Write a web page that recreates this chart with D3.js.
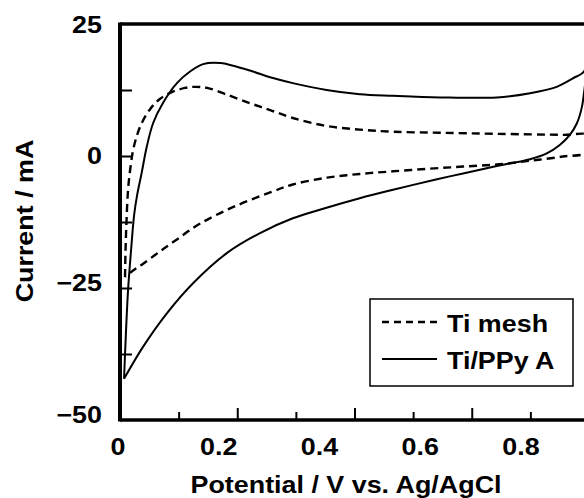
<!DOCTYPE html>
<html>
<head>
<meta charset="utf-8">
<script src="https://cdn.jsdelivr.net/npm/d3@7"></script>
<style>
  body { margin: 0; background: #fff; }
  text { font-family: "Liberation Sans", Arial, sans-serif; font-weight: bold; fill: #000; }
</style>
</head>
<body>
<div id="chart"></div>
<script>
// Ti mesh (dashed), forward then reverse scan
var meshV = [0.010, 0.011, 0.013, 0.016, 0.020, 0.026, 0.034, 0.044, 0.060, 0.079, 0.103, 0.129, 0.149, 0.173, 0.210, 0.258, 0.298, 0.343, 0.409, 0.476, 0.542, 0.635, 0.748, 0.879, 0.930,
             0.930, 0.879, 0.814, 0.748, 0.681, 0.615, 0.542, 0.476, 0.411, 0.343, 0.298, 0.224, 0.159, 0.113, 0.079, 0.046, 0.026, 0.010];
var meshI = [-22.9, -17.8, -12.1, -6.4, -2.7, 1.1, 4.0, 6.4, 8.9, 10.8, 12.1, 12.9, 13.1, 12.9, 11.7, 10.0, 8.7, 7.2, 5.7, 5.0, 4.6, 4.4, 4.2, 4.0, 3.9,
             0.8, -0.1, -0.9, -1.6, -2.0, -2.4, -2.9, -3.4, -4.1, -5.4, -6.9, -9.7, -12.8, -15.8, -18.1, -20.4, -21.7, -22.9];

// Ti/PPy A (solid)
var ppyV = [0.008, 0.012, 0.016, 0.022, 0.028, 0.034, 0.043, 0.053, 0.066, 0.085, 0.113, 0.139, 0.165, 0.199, 0.232, 0.264, 0.298, 0.343, 0.410, 0.476, 0.542, 0.635, 0.748, 0.814, 0.867, 0.899, 0.921, 0.928,
            0.921, 0.917, 0.907, 0.893, 0.873, 0.847, 0.814, 0.748, 0.681, 0.625, 0.542, 0.476, 0.410, 0.343, 0.278, 0.212, 0.145, 0.093, 0.046, 0.008];
var ppyI = [-42.2, -33.0, -25.4, -17.8, -11.2, -7.4, -3.2, 1.7, 6.3, 10.0, 13.8, 16.0, 17.4, 17.6, 16.9, 16.0, 14.9, 13.8, 12.5, 11.7, 11.4, 11.1, 11.1, 11.9, 13.1, 14.7, 16.0, 18.0,
            11.9, 9.3, 6.2, 4.0, 2.1, 0.5, -0.6, -1.9, -3.3, -4.5, -6.4, -8.0, -9.8, -11.8, -14.6, -18.4, -24.1, -29.8, -36.1, -42.2];

var xLabels = [0, 0.2, 0.4, 0.6, 0.8];
var xTickVals = [0.1, 0.2, 0.3, 0.4, 0.5, 0.6, 0.7];
var yLabels = [25, 0, -25, -50];
var yTickVals = [12.5, 0, -12.5, -25, -37.5];

(function() {
    var W = 584, H = 498;
    var mLeft = 120, mTop = 24, mRight = 584, mBottom = 420;
    var sx = 1.12; // the original lettering is a bit wider than Arial

    var svg = d3.select("#chart").append("svg")
        .attr("width", W)
        .attr("height", H);

    svg.append("rect").attr("width", W).attr("height", H).attr("fill", "#fff");

    var x = d3.scaleLinear().domain([0, 0.8]).range([mLeft, 523]);
    var y = d3.scaleLinear().domain([-50, 25]).range([mBottom, mTop]);
    // tick marks of the original sit on their own spacing
    var xTick = d3.scaleLinear().domain([0, 0.8]).range([mLeft, 589]);

    svg.append("clipPath").attr("id", "plot")
      .append("rect")
        .attr("x", mLeft).attr("y", mTop)
        .attr("width", mRight - mLeft).attr("height", mBottom - mTop);

    var line = d3.line()
        .x(function(d) { return x(d[0]); })
        .y(function(d) { return y(d[1]); })
        .curve(d3.curveCatmullRom.alpha(0.5));

    var mesh = meshV.map(function(v, i) { return [v, meshI[i]]; });
    var ppy = ppyV.map(function(v, i) { return [v, ppyI[i]]; });

    var g = svg.append("g").attr("clip-path", "url(#plot)");
    g.append("path").datum(mesh)
        .attr("d", line)
        .attr("fill", "none")
        .attr("stroke", "#000")
        .attr("stroke-width", 2.4)
        .attr("stroke-dasharray", "8,5");
    g.append("path").datum(ppy)
        .attr("d", line)
        .attr("fill", "none")
        .attr("stroke", "#000")
        .attr("stroke-width", 2);

    // y ticks (inward)
    var yAxis = d3.axisRight(y).tickValues(yTickVals).tickSize(12).tickFormat("");
    svg.append("g")
        .attr("transform", "translate(" + mLeft + ",0)")
        .call(yAxis)
        .call(function(a) { a.select(".domain").remove(); a.selectAll("line").attr("stroke-width", 2); });

    // x ticks (inward, alternating)
    var xAxis = d3.axisTop(xTick).tickValues(xTickVals).tickSize(8).tickFormat("");
    svg.append("g")
        .attr("transform", "translate(0," + mBottom + ")")
        .call(xAxis)
        .call(function(a) {
            a.select(".domain").remove();
            a.selectAll("line")
                .attr("stroke-width", 2)
                .attr("y2", function(d) { return Math.round(d * 10) % 2 === 0 ? -12 : -8; });
        });

    // frame
    svg.append("line").attr("x1", mLeft).attr("x2", mRight).attr("y1", mTop).attr("y2", mTop)
        .attr("stroke", "#000").attr("stroke-width", 3.5);
    svg.append("line").attr("x1", mLeft).attr("x2", mLeft).attr("y1", mTop - 1.5).attr("y2", mBottom + 1.5)
        .attr("stroke", "#000").attr("stroke-width", 4);
    svg.append("line").attr("x1", mLeft).attr("x2", mRight).attr("y1", mBottom).attr("y2", mBottom)
        .attr("stroke", "#000").attr("stroke-width", 3.5);

    // tick labels
    svg.selectAll(".ylab").data(yLabels).enter().append("text")
        .attr("class", "ylab")
        .attr("transform", function(d) {
            var yy = d === 25 ? y(d) + 1 : (d < 0 ? y(d) - 5 : y(d));
            return "translate(102," + yy + ") scale(" + sx + ",1)";
        })
        .attr("dy", "0.35em")
        .attr("text-anchor", "end")
        .style("font-size", "24px")
        .text(function(d) { return d < 0 ? "\u2212" + Math.abs(d) : d; });

    svg.selectAll(".xlab").data(xLabels).enter().append("text")
        .attr("class", "xlab")
        .attr("transform", function(d) { return "translate(" + (x(d) - 2) + ",455) scale(" + sx + ",1)"; })
        .attr("text-anchor", "middle")
        .style("font-size", "24px")
        .text(function(d) { return d === 0 ? "0" : d3.format(".1f")(d); });

    // axis titles
    svg.append("text")
        .attr("transform", "translate(346,493) scale(" + sx + ",1)")
        .attr("text-anchor", "middle")
        .style("font-size", "24px")
        .text("Potential / V vs. Ag/AgCl");

    svg.append("text")
        .attr("transform", "translate(33,221) rotate(-90) scale(" + sx + ",1)")
        .attr("text-anchor", "middle")
        .style("font-size", "24px")
        .text("Current / mA");

    // legend
    var legend = svg.append("g");
    legend.append("rect")
        .attr("x", 370).attr("y", 299).attr("width", 203).attr("height", 87)
        .attr("fill", "#fff").attr("stroke", "#000").attr("stroke-width", 1.5);
    var items = [["Ti mesh", "7,5", 2.4, 322], ["Ti/PPy A", null, 2, 359]];
    items.forEach(function(it) {
        legend.append("line")
            .attr("x1", 382).attr("x2", 437).attr("y1", it[3]).attr("y2", it[3])
            .attr("stroke", "#000").attr("stroke-width", it[2])
            .attr("stroke-dasharray", it[1]);
        legend.append("text")
            .attr("transform", "translate(447," + (it[3] + 10) + ") scale(" + sx + ",1)")
            .style("font-size", "24px")
            .text(it[0]);
    });
})();
</script>
</body>
</html>
